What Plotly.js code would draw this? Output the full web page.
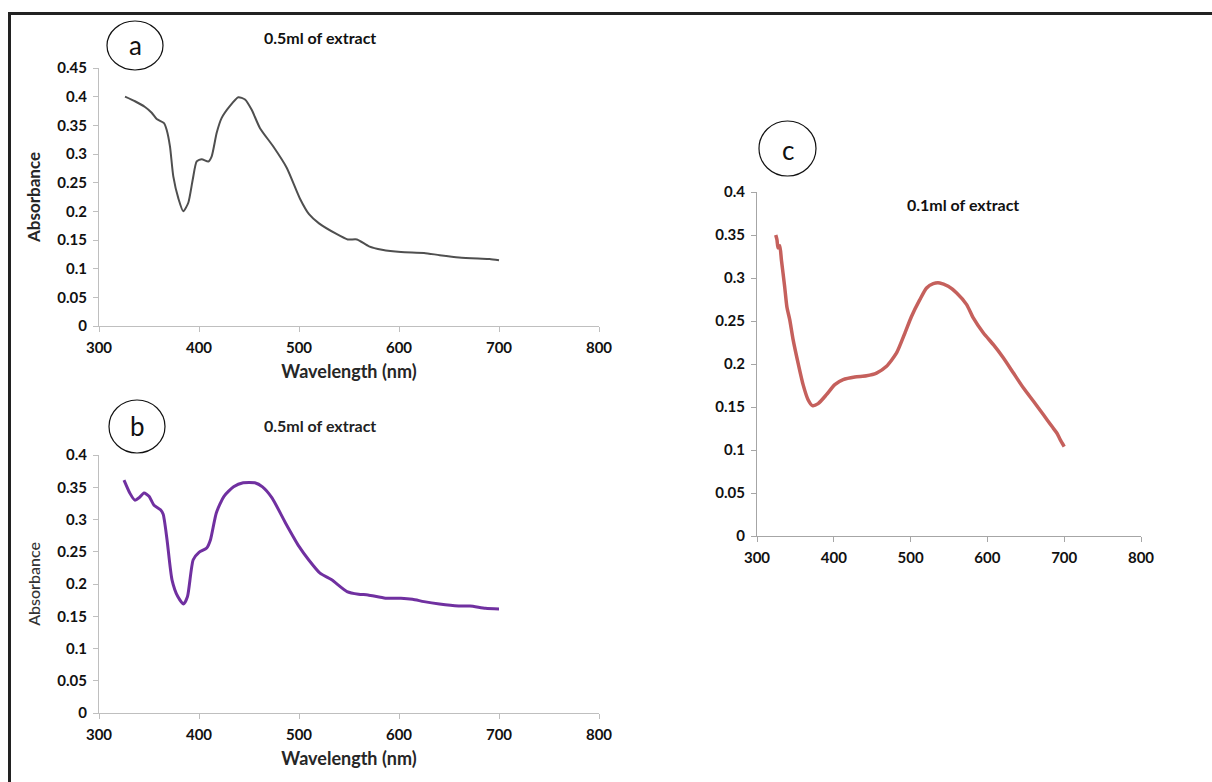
<!DOCTYPE html>
<html>
<head>
<meta charset="utf-8">
<script src="https://cdn.plot.ly/plotly-3.0.1.min.js"></script>
<style>html,body{margin:0;padding:0;background:#fff;}#chart{width:1212px;height:782px;}</style>
</head>
<body>
<div id="chart"></div>
<script>
// Panel a: 0.5ml of extract (grey)
const waveA = [326,336,346,352.7,357.7,365,367.7,371,374.3,379.3,384.3,389.3,393.7,397.7,402.7,409.3,412.7,417.7,422.7,431,439.3,446,452.7,461,474.3,487.7,501,510,520,537,548.7,558,570,583,602,625,640.7,660,679,690.6,700];
const absA  = [0.400,0.392,0.382,0.372,0.361,0.354,0.342,0.313,0.261,0.223,0.200,0.215,0.255,0.287,0.291,0.287,0.296,0.337,0.363,0.384,0.399,0.395,0.377,0.345,0.313,0.276,0.222,0.195,0.179,0.161,0.151,0.151,0.139,0.133,0.129,0.1275,0.1235,0.1194,0.1177,0.117,0.1148];
// Panel b: 0.5ml of extract (purple)
const waveB = [325,330.8,335.8,340.4,345,350,355,361.5,364.2,368,373,378.8,384.6,388.5,394.2,400,407.7,411.5,417.3,425,434.6,444.2,455.8,463.5,473,486.5,500,509.6,521,532.7,548,559.6,569,586.5,601.9,613.5,625,640.4,659.6,671,686.5,700];
const absB  = [0.361,0.341,0.330,0.334,0.341,0.336,0.322,0.315,0.308,0.269,0.2065,0.1805,0.169,0.1805,0.2376,0.249,0.2558,0.2687,0.3102,0.336,0.3507,0.357,0.357,0.3507,0.3336,0.2947,0.2583,0.2376,0.2168,0.2065,0.1883,0.1842,0.1831,0.178,0.178,0.1764,0.1727,0.169,0.166,0.166,0.1624,0.1613];
// Panel c: 0.1ml of extract (red)
const waveC = [324.4,326,327.4,329.6,331.8,336,339,342.6,347,353.5,360,366.5,372.2,379.6,390.4,401.3,412.2,427.4,442.6,455.6,468.7,481.7,492.6,501,512,520.8,529.5,538,549,560,573,581.6,594.8,607.8,620.9,633.9,647,660,673,683.9,690.4,694.8,700];
const absC  = [0.350,0.3445,0.335,0.3376,0.321,0.290,0.266,0.2516,0.2283,0.201,0.176,0.1585,0.1516,0.1539,0.1643,0.176,0.1818,0.1849,0.1864,0.1895,0.1973,0.2128,0.236,0.255,0.2748,0.2884,0.2934,0.2942,0.2903,0.2826,0.269,0.2535,0.236,0.2225,0.207,0.1895,0.172,0.1566,0.141,0.1275,0.1198,0.112,0.104];

const W = 1212, H = 782;
const px = x => x / W;
const py = y => 1 - y / H;

const FAM = 'Lato, "Open Sans", sans-serif';
const tickFont = {family: FAM, size: 15, color: '#111111', weight: 'bold'};
const axisCommon = {
  showgrid: false, zeroline: false, showline: true, linecolor: '#bfbfbf', linewidth: 1,
  ticks: 'outside', ticklen: 5, tickcolor: '#bfbfbf', tickfont: tickFont, fixedrange: true,
  ticklabelstandoff: 3
};
const xTicks = [300,400,500,600,700,800];

const traces = [
  {x: waveA, y: absA, xaxis: 'x', yaxis: 'y', mode: 'lines', line: {color: '#4f4f4f', width: 2, shape: 'spline', smoothing: 0.6}, showlegend: false},
  {x: waveB, y: absB, xaxis: 'x2', yaxis: 'y2', mode: 'lines', line: {color: '#7030a0', width: 3, shape: 'spline', smoothing: 0.6}, showlegend: false},
  {x: waveC, y: absC, xaxis: 'x3', yaxis: 'y3', mode: 'lines', line: {color: '#c5605c', width: 3.5, shape: 'spline', smoothing: 0.6}, showlegend: false}
];

const titleFontBold = {family: FAM, size: 18, color: '#262626', weight: 'bold'};

function label(x, y, text, size, weight, color) {
  return {xref: 'paper', yref: 'paper', x: px(x), y: py(y), xanchor: 'center', yanchor: 'middle',
    text: text, showarrow: false, font: {family: FAM, size: size, color: color || '#111', weight: weight || 'normal'}};
}

const layout = {
  width: W, height: H,
  margin: {l: 0, r: 0, t: 0, b: 0},
  paper_bgcolor: '#ffffff', plot_bgcolor: 'rgba(0,0,0,0)',
  showlegend: false,
  xaxis: Object.assign({}, axisCommon, {domain: [px(99), px(599)], range: [300, 800], tickvals: xTicks, anchor: 'y',
    title: {text: 'Wavelength (nm)', font: titleFontBold, standoff: 10}}),
  yaxis: Object.assign({}, axisCommon, {domain: [py(326), py(68)], range: [0, 0.45], dtick: 0.05, anchor: 'x',
    title: {text: 'Absorbance', font: {family: FAM, size: 17, color: '#262626', weight: 'bold'}, standoff: 12}}),
  xaxis2: Object.assign({}, axisCommon, {domain: [px(99), px(599)], range: [300, 800], tickvals: xTicks, anchor: 'y2',
    title: {text: 'Wavelength (nm)', font: titleFontBold, standoff: 10}}),
  yaxis2: Object.assign({}, axisCommon, {domain: [py(713), py(455)], range: [0, 0.4], dtick: 0.05, anchor: 'x2',
    title: {text: 'Absorbance', font: {family: FAM, size: 16, color: '#333333', weight: 500}, standoff: 12}}),
  xaxis3: Object.assign({}, axisCommon, {domain: [px(757), px(1141)], range: [300, 800], tickvals: xTicks, anchor: 'y3', linecolor: '#a6a6a6', tickcolor: '#a6a6a6'}),
  yaxis3: Object.assign({}, axisCommon, {domain: [py(536), py(192)], range: [0, 0.4], dtick: 0.05, anchor: 'x3', linecolor: '#a6a6a6', tickcolor: '#a6a6a6'}),
  shapes: [
    {type: 'line', xref: 'paper', yref: 'paper', x0: px(8), x1: 1, y0: py(13.5), y1: py(13.5), line: {color: '#222222', width: 3}},
    {type: 'line', xref: 'paper', yref: 'paper', x0: px(9.5), x1: px(9.5), y0: py(12), y1: 0, line: {color: '#222222', width: 3}},
    {type: 'circle', xref: 'paper', yref: 'paper', x0: px(107), x1: px(163), y0: py(70), y1: py(21), line: {color: '#111111', width: 1.2}},
    {type: 'circle', xref: 'paper', yref: 'paper', x0: px(109), x1: px(165), y0: py(453), y1: py(400), line: {color: '#111111', width: 1.2}},
    {type: 'circle', xref: 'paper', yref: 'paper', x0: px(759), x1: px(816), y0: py(176), y1: py(121), line: {color: '#111111', width: 1.2}}
  ],
  annotations: [
    label(135, 45, 'a', 26),
    label(137, 426, 'b', 26),
    label(788, 150, 'c', 26),
    label(320, 38, '0.5ml of extract', 16, 'bold'),
    label(320, 425, '0.5ml of extract', 16, 'bold', '#222'),
    label(963, 204, '0.1ml of extract', 16, 'bold')
  ]
};

Plotly.newPlot('chart', traces, layout, {displayModeBar: false, staticPlot: true});
</script>
</body>
</html>
